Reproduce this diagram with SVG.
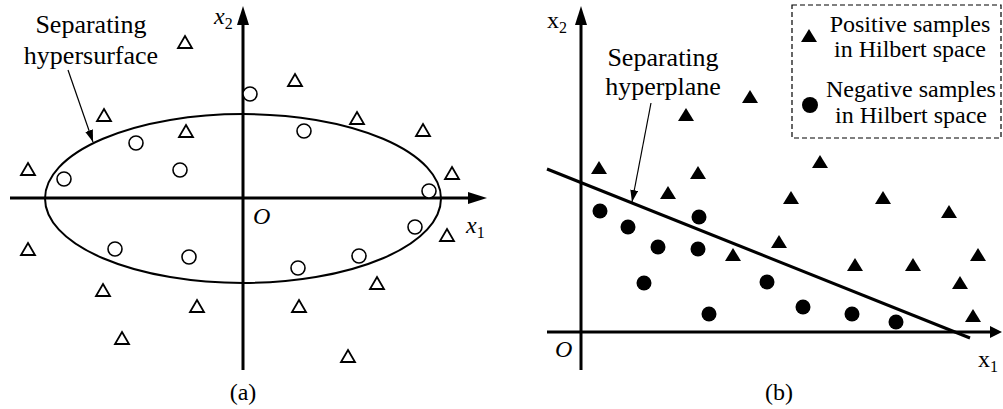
<svg xmlns="http://www.w3.org/2000/svg" width="1003" height="409" viewBox="0 0 1003 409">
<style>
text{font-family:"Liberation Serif","Times New Roman",serif;fill:#000}
.ann{font-size:26px;text-anchor:middle}
.leg{font-size:24px;text-anchor:middle}
.lab{font-size:24px}
.it{font-style:italic}
.axis{stroke:#000;stroke-width:3;fill:none}
.otri{fill:#fff;stroke:#000;stroke-width:1.8}
.ocir{fill:#fff;stroke:#000;stroke-width:1.6}
.ftri{fill:#000}
.fcir{fill:#000}
.thin{stroke:#000;stroke-width:1.2;fill:none}
</style>
<defs>
<path id="ot" d="M0,-6 L7,6 L-7,6 Z"/>
<path id="ft" d="M0,-7 L8,6 L-8,6 Z"/>
<marker id="ah" viewBox="0 0 12 8" refX="12" refY="4" markerWidth="12" markerHeight="8" markerUnits="userSpaceOnUse" orient="auto">
<path d="M0,0 L12,4 L0,8 Z" fill="#000"/>
</marker>
</defs>
<rect width="1003" height="409" fill="#fff"/>

<!-- Panel (a) -->
<g id="axes-a">
<line class="axis" x1="10" y1="198" x2="470" y2="198"/>
<path d="M468,192 L487,198 L468,204 Z" fill="#000"/>
<line class="axis" x1="243" y1="370" x2="243" y2="24"/>
<path d="M237,25 L243,6 L249,25 Z" fill="#000"/>
<text class="lab it" x="214" y="24">x<tspan font-size="16" font-style="normal" dy="5">2</tspan></text>
<text class="lab it" x="466" y="233">x<tspan font-size="16" font-style="normal" dy="5">1</tspan></text>
<text class="lab it" x="253" y="224">O</text>
<text class="lab" x="243" y="400" text-anchor="middle">(a)</text>
</g>
<g id="hypersurface">
<ellipse cx="243" cy="198.5" rx="198" ry="84.5" fill="none" stroke="#000" stroke-width="2"/>
</g>
<g id="label-hypersurface">
<text class="ann" x="91" y="33">Separating</text>
<text class="ann" x="91" y="64">hypersurface</text>
</g>
<g id="samples-a">
<use href="#ot" class="otri" x="185" y="42"/>
<use href="#ot" class="otri" x="104" y="115"/>
<use href="#ot" class="otri" x="186" y="131"/>
<use href="#ot" class="otri" x="28" y="169"/>
<use href="#ot" class="otri" x="295" y="80"/>
<use href="#ot" class="otri" x="357" y="118"/>
<use href="#ot" class="otri" x="423" y="130"/>
<use href="#ot" class="otri" x="452" y="173"/>
<use href="#ot" class="otri" x="28" y="249"/>
<use href="#ot" class="otri" x="103" y="290"/>
<use href="#ot" class="otri" x="197" y="306"/>
<use href="#ot" class="otri" x="122" y="338"/>
<use href="#ot" class="otri" x="447" y="235"/>
<use href="#ot" class="otri" x="377" y="283"/>
<use href="#ot" class="otri" x="299" y="306"/>
<use href="#ot" class="otri" x="348" y="356"/>
<circle class="ocir" cx="136" cy="143" r="7"/>
<circle class="ocir" cx="180" cy="170" r="7"/>
<circle class="ocir" cx="64" cy="179" r="7"/>
<circle class="ocir" cx="250" cy="94" r="7"/>
<circle class="ocir" cx="304" cy="131" r="7"/>
<circle class="ocir" cx="429" cy="191" r="7"/>
<circle class="ocir" cx="115" cy="249" r="7"/>
<circle class="ocir" cx="189" cy="257" r="7"/>
<circle class="ocir" cx="415" cy="227" r="7"/>
<circle class="ocir" cx="359" cy="256" r="7"/>
<circle class="ocir" cx="298" cy="268" r="7"/>
</g>

<!-- Panel (b) -->
<g id="axes-b">
<line class="axis" x1="547" y1="332" x2="993" y2="332"/>
<path d="M990,326 L1002,332 L990,338 Z" fill="#000"/>
<line class="axis" x1="581" y1="370" x2="581" y2="24"/>
<path d="M575,25 L581,6 L587,25 Z" fill="#000"/>
<text class="lab" x="547" y="28">x<tspan font-size="16" dy="5">2</tspan></text>
<text class="lab" x="978" y="367">x<tspan font-size="16" dy="5">1</tspan></text>
<text class="lab it" x="555" y="357">O</text>
<text class="lab" x="779" y="400" text-anchor="middle">(b)</text>
</g>
<g id="hyperplane">
<line x1="547" y1="169" x2="970" y2="338" stroke="#000" stroke-width="3"/>
</g>
<g id="label-hyperplane">
<text class="ann" x="663" y="66">Separating</text>
<text class="ann" x="663" y="95">hyperplane</text>
</g>
<g id="samples-b">
<use href="#ft" class="ftri" x="750" y="97"/>
<use href="#ft" class="ftri" x="686" y="115"/>
<use href="#ft" class="ftri" x="599" y="168"/>
<use href="#ft" class="ftri" x="698" y="173"/>
<use href="#ft" class="ftri" x="668" y="193"/>
<use href="#ft" class="ftri" x="820" y="162"/>
<use href="#ft" class="ftri" x="791" y="198"/>
<use href="#ft" class="ftri" x="883" y="198"/>
<use href="#ft" class="ftri" x="949" y="212"/>
<use href="#ft" class="ftri" x="779" y="242"/>
<use href="#ft" class="ftri" x="978" y="255"/>
<use href="#ft" class="ftri" x="855" y="265"/>
<use href="#ft" class="ftri" x="913" y="265"/>
<use href="#ft" class="ftri" x="960" y="283"/>
<use href="#ft" class="ftri" x="973" y="316"/>
<use href="#ft" class="ftri" x="733" y="255"/>
<circle class="fcir" cx="600" cy="211" r="7.5"/>
<circle class="fcir" cx="628" cy="227" r="7.5"/>
<circle class="fcir" cx="699" cy="217" r="7.5"/>
<circle class="fcir" cx="658" cy="247" r="7.5"/>
<circle class="fcir" cx="698" cy="249" r="7.5"/>
<circle class="fcir" cx="644" cy="283" r="7.5"/>
<circle class="fcir" cx="767" cy="282" r="7.5"/>
<circle class="fcir" cx="709" cy="314" r="7.5"/>
<circle class="fcir" cx="803" cy="307" r="7.5"/>
<circle class="fcir" cx="852" cy="314" r="7.5"/>
<circle class="fcir" cx="896" cy="322" r="7.5"/>
</g>
<g id="legend">
<rect x="792" y="5" width="209" height="133" fill="none" stroke="#000" stroke-width="1.2" stroke-dasharray="5,3"/>
<use href="#ft" class="ftri" x="809" y="36"/>
<circle class="fcir" cx="810" cy="105" r="8"/>
<text class="leg" x="910" y="32">Positive samples</text>
<text class="leg" x="910" y="57">in Hilbert space</text>
<text class="leg" x="911" y="97">Negative samples</text>
<text class="leg" x="911" y="123">in Hilbert space</text>
</g>

<g id="connectors">
<line class="thin" x1="68" y1="70" x2="93" y2="142" marker-end="url(#ah)"/>
<line class="thin" x1="651" y1="103" x2="632" y2="202" marker-end="url(#ah)"/>
</g>
</svg>
